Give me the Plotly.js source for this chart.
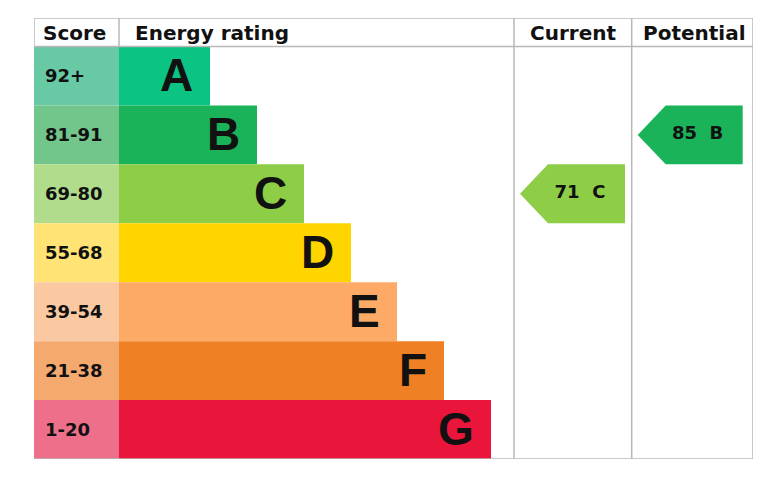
<!DOCTYPE html>
<html>
<head>
<meta charset="utf-8">
<script src="https://cdn.plot.ly/plotly-3.0.1.min.js"></script>
<style>
  html, body { margin: 0; padding: 0; background: #ffffff; }
  #chart { width: 768px; height: 489px; }
</style>
</head>
<body>
<div id="chart"></div>
<script>
// ---- data ----
const bands = ['A', 'B', 'C', 'D', 'E', 'F', 'G'];
const scoreRanges = ['92+', '81-91', '69-80', '55-68', '39-54', '21-38', '1-20'];
const bandMin = [92, 81, 69, 55, 39, 21, 1];
const barLength = [91, 138, 185, 232, 278, 325, 372];
const barColors = ['#0bc383', '#1bb35a', '#8dce46', '#ffd500', '#fcaa65', '#ef8023', '#e9153b'];
const scoreColors = ['#68c9a5', '#72c58b', '#b0dc8b', '#ffe374', '#fbc9a1', '#f4a96f', '#ee6f89'];
const headers = ['Score', 'Energy rating', 'Current', 'Potential'];
const currentScore = 71;
const potentialScore = 85;

// ---- layout constants (chart units) ----
const SCORE_COL = 85;
const CUR_L = 480;
const POT_L = 597.7;
const RIGHT = 719;
const HEADER_TOP = -0.9837;
const ROW_TOP = -0.5;
const BOTTOM = 6.5;
const rowIdx = bands.map((b, i) => i);

function bandOf(score) {
  for (let i = 0; i < bandMin.length; i++) if (score >= bandMin[i]) return i;
  return bandMin.length - 1;
}

const traces = [];
// score cells
traces.push({
  type: 'bar', orientation: 'h', y: rowIdx, x: rowIdx.map(() => SCORE_COL), base: 0,
  width: 1, marker: { color: scoreColors, line: { width: 0 } }, hoverinfo: 'skip', showlegend: false
});
// rating bars
traces.push({
  type: 'bar', orientation: 'h', y: rowIdx, x: barLength, base: SCORE_COL,
  width: 1, marker: { color: barColors, line: { width: 0 } }, hoverinfo: 'skip', showlegend: false
});

// arrows
function arrow(score, colL) {
  const i = bandOf(score);
  const tip = colL + 6, body = colL + 34, right = colL + 111;
  traces.push({
    type: 'scatter', mode: 'lines', fill: 'toself', fillcolor: barColors[i],
    x: [tip, body, right, right, body, tip], y: [i, i - 0.5, i - 0.5, i + 0.5, i + 0.5, i],
    line: { width: 0, color: barColors[i] }, hoverinfo: 'skip', showlegend: false
  });
  traces.push({
    type: 'scatter', mode: 'text', x: [colL + 66], y: [i],
    text: [score + '\u00a0\u00a0' + bands[i]], textposition: 'middle center',
    textfont: { family: 'DejaVu Sans', size: 18, weight: 'bold', color: '#111111' },
    hoverinfo: 'skip', showlegend: false
  });
}
arrow(currentScore, CUR_L);
arrow(potentialScore, POT_L);

const annotations = [];
const hy = -0.73;
const hfont = { family: 'DejaVu Sans', size: 20, weight: 'bold', color: '#111111' };
annotations.push({ x: 7, y: hy, xref: 'x', yref: 'y', text: headers[0], showarrow: false, xanchor: 'left', yanchor: 'middle', font: hfont });
annotations.push({ x: SCORE_COL + 14, y: hy, xref: 'x', yref: 'y', text: headers[1], showarrow: false, xanchor: 'left', yanchor: 'middle', font: hfont });
annotations.push({ x: (CUR_L + POT_L) / 2, y: hy, xref: 'x', yref: 'y', text: headers[2], showarrow: false, xanchor: 'center', yanchor: 'middle', font: hfont });
annotations.push({ x: (POT_L + RIGHT) / 2 + 2, y: hy, xref: 'x', yref: 'y', text: headers[3], showarrow: false, xanchor: 'center', yanchor: 'middle', font: hfont });

rowIdx.forEach(i => {
  annotations.push({
    x: 9, y: i, xref: 'x', yref: 'y', text: scoreRanges[i], showarrow: false,
    xanchor: 'left', yanchor: 'middle',
    font: { family: 'DejaVu Sans', size: 18, weight: 'bold', color: '#111111' }
  });
  annotations.push({
    x: SCORE_COL + barLength[i] - 15, y: i, xref: 'x', yref: 'y', text: bands[i], showarrow: false,
    xanchor: 'right', yanchor: 'middle', yshift: 1,
    font: { family: 'Liberation Sans', size: 46, weight: 'bold', color: '#111111' }
  });
});

const lc = '#b8b8b8', lw = 1.5;
const line = (x0, y0, x1, y1) => ({ type: 'line', xref: 'x', yref: 'y', x0, y0, x1, y1, line: { color: lc, width: lw }, layer: 'above' });
const shapes = [
  line(0, HEADER_TOP, RIGHT, HEADER_TOP),
  line(0, ROW_TOP, RIGHT, ROW_TOP),
  line(0, BOTTOM, RIGHT, BOTTOM),
  line(0, HEADER_TOP, 0, ROW_TOP),
  line(SCORE_COL, HEADER_TOP, SCORE_COL, ROW_TOP),
  line(CUR_L, HEADER_TOP, CUR_L, BOTTOM),
  line(POT_L, HEADER_TOP, POT_L, BOTTOM),
  line(RIGHT, HEADER_TOP, RIGHT, BOTTOM)
];

const layout = {
  width: 768, height: 489,
  margin: { l: 34, r: 15, t: 18, b: 30, pad: 0 },
  paper_bgcolor: '#ffffff', plot_bgcolor: '#ffffff',
  xaxis: { range: [0, RIGHT], visible: false, fixedrange: true },
  yaxis: { range: [BOTTOM, HEADER_TOP], visible: false, fixedrange: true },
  barmode: 'overlay',
  showlegend: false,
  annotations, shapes
};

Plotly.newPlot('chart', traces, layout, { displayModeBar: false, staticPlot: true });
</script>
</body>
</html>
